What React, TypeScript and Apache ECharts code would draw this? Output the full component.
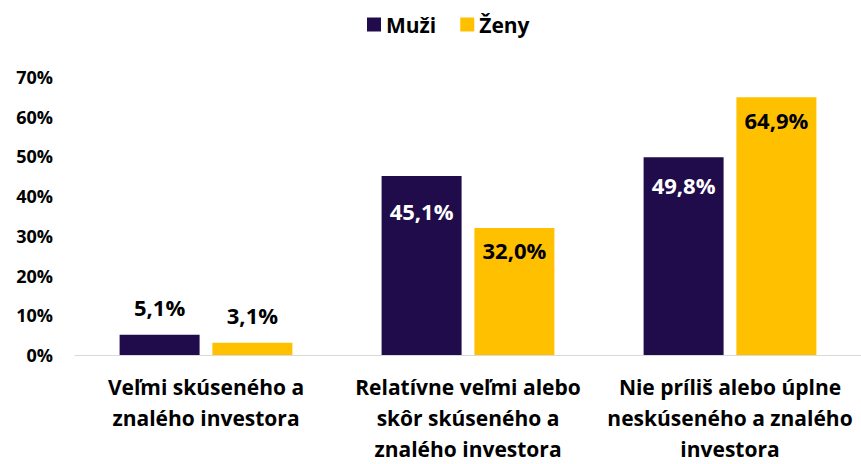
import React, { useEffect, useRef } from "react";
import * as echarts from "echarts";

const categories = [
  "Veľmi skúseného a\nznalého investora",
  "Relatívne veľmi alebo\nskôr skúseného a\nznalého investora",
  "Nie príliš alebo úplne\nneskúseného a znalého\ninvestora",
];
const seriesNames = ["Muži", "Ženy"];
const muzi = [5.1, 45.1, 49.8];
const zeny = [3.1, 32.0, 64.9];
const yTicks = [0, 10, 20, 30, 40, 50, 60, 70];

const FONT = "'Open Sans', 'Noto Sans', sans-serif";
const PURPLE = "#200C4A";
const YELLOW = "#FFC000";

// label placement styling (distance from bar top), per series / category
const labelDistMuzi = [17, 24, 17];
const labelDistZeny = [17, 11, 12];

const fmt = (v: number) => v.toFixed(1).replace(".", ",") + "%";

export default function App() {
  const ref = useRef<HTMLDivElement>(null);
  useEffect(() => {
    if (!ref.current) return;
    const chart = echarts.init(ref.current, undefined, { renderer: "svg" });
    const mkData = (arr: number[], dists: number[], isMuzi: boolean) =>
      arr.map((v, i) => {
        const inside = v > 20;
        return {
          value: v,
          label: {
            show: true,
            position: inside ? "insideTop" : "top",
            distance: dists[i],
            color: inside && isMuzi ? "#ffffff" : "#000000",
            formatter: () => fmt(v),
          },
        };
      });
    chart.setOption({
      animation: false,
      textStyle: { fontFamily: FONT },
      legend: {
        top: 9,
        left: 362,
        itemWidth: 14,
        itemHeight: 14,
        itemGap: 24,
        icon: "rect",
        textStyle: { fontFamily: FONT, fontWeight: "bold", fontSize: 21, color: "#000" },
        data: seriesNames,
      },
      grid: { left: 75, right: 0, top: 77, bottom: 109, containLabel: false },
      xAxis: {
        type: "category",
        data: categories,
        axisLine: { show: true, lineStyle: { color: "#d9d9d9", width: 1 } },
        axisTick: { show: false },
        axisLabel: {
          interval: 0,
          margin: 16,
          fontFamily: FONT,
          fontWeight: "bold",
          fontSize: 21,
          lineHeight: 31,
          color: "#000",
        },
      },
      yAxis: {
        type: "value",
        min: 0,
        max: 70,
        interval: 10,
        splitLine: { show: false },
        axisLine: { show: false },
        axisTick: { show: false },
        axisLabel: {
          margin: 22,
          fontFamily: FONT,
          fontWeight: "bold",
          fontSize: 18,
          color: "#000",
          formatter: (v: number) => (yTicks.includes(v) ? v + "%" : ""),
        },
      },
      series: [
        {
          name: seriesNames[0],
          type: "bar",
          barWidth: 80,
          barGap: "16%",
          itemStyle: { color: PURPLE },
          label: { fontFamily: FONT, fontWeight: "bold", fontSize: 22 },
          data: mkData(muzi, labelDistMuzi, true),
        },
        {
          name: seriesNames[1],
          type: "bar",
          barWidth: 80,
          barGap: "16%",
          itemStyle: { color: YELLOW },
          label: { fontFamily: FONT, fontWeight: "bold", fontSize: 22 },
          data: mkData(zeny, labelDistZeny, false),
        },
      ],
    });
    return () => chart.dispose();
  }, []);
  return <div ref={ref} style={{ width: 861, height: 464, position: "absolute", left: 0, top: 0 }} />;
}
